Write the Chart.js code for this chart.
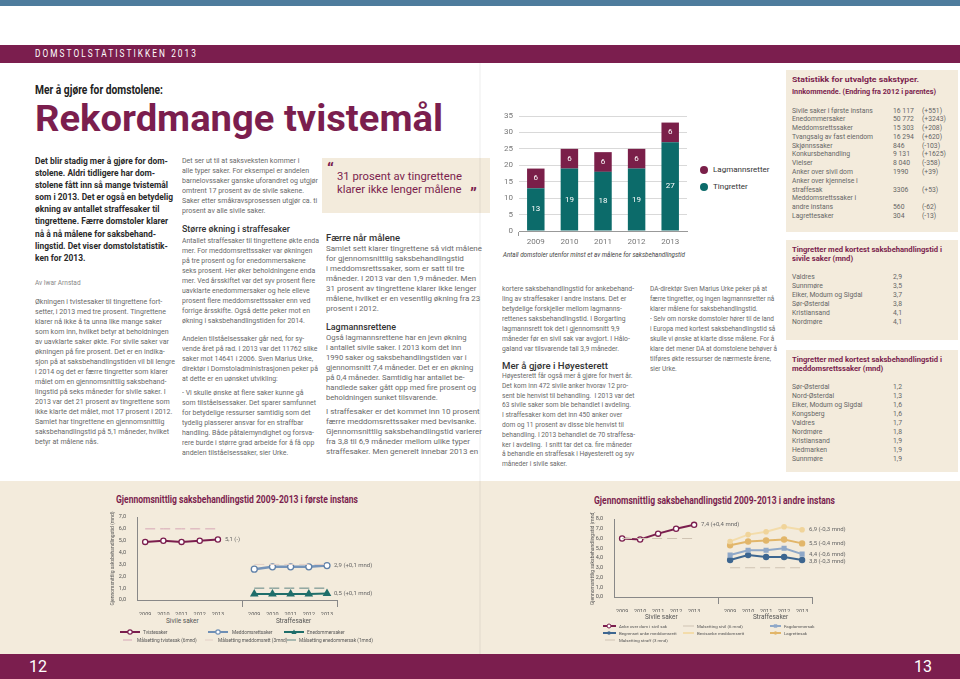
<!DOCTYPE html>
<html><head><meta charset="utf-8">
<script src="https://cdn.jsdelivr.net/npm/chart.js@4.4.1/dist/chart.umd.min.js"></script>
<style>
html,body{margin:0;padding:0;}
body{width:960px;height:679px;position:relative;overflow:hidden;background:#fff;font-family:Roboto,'Liberation Sans',sans-serif;}
.box{position:absolute;}
.t{position:absolute;white-space:pre;transform-origin:0 0;}
.body{font-size:6.6px;line-height:10px;color:#686868;}
.h{font-size:9px;line-height:12px;color:#333;font-weight:500;}
.side{font-size:6.8px;color:#666;}
.sideTitle{font-size:7px;line-height:10px;color:#7b1e4e;font-weight:700;}
.cv{position:absolute;}
</style></head><body>
<!-- page decoration -->
<div class="box" style="left:0;top:0;width:960px;height:6px;background:#4e7c9d"></div>
<div class="box" style="left:0;top:45px;width:960px;height:18px;background:#7b1e4e"></div>
<div class="t" style="left:35px;top:48px;font-size:10.5px;line-height:12px;color:#fff;letter-spacing:2.6px;" data-w="163">DOMSTOLSTATISTIKKEN 2013</div>
<div class="t" style="left:35px;top:83px;font-size:12.5px;line-height:14px;color:#222;font-weight:700;" data-w="128">Mer å gjøre for domstolene:</div>
<div class="t" style="left:35px;top:99px;font-size:37px;line-height:40px;color:#7b1e4e;font-weight:700;" data-w="408">Rekordmange tvistemål</div>

<div class="t" style="left:35px;top:155px;font-size:9.6px;line-height:12.1px;color:#2a2a2a;font-weight:700;" data-w="138">Det blir stadig mer å gjøre for dom-
stolene. Aldri tidligere har dom-
stolene fått inn så mange tvistemål
som i 2013. Det er også en betydelig
økning av antallet straffesaker til
tingrettene. Færre domstoler klarer
nå å nå målene for saksbehand-
lingstid. Det viser domstolstatistik-
ken for 2013.</div>
<div class="t" style="left:35px;top:279px;font-size:6.5px;line-height:9px;color:#888;">Av Iwar Arnstad</div>
<div class="t body" style="left:35px;top:297px;" data-w="140">Økningen i tvistesaker til tingrettene fort-
setter, i 2013 med tre prosent. Tingrettene
klarer nå ikke å ta unna like mange saker
som kom inn, hvilket betyr at beholdningen
av uavklarte saker økte. For sivile saker var
økningen på fire prosent. Det er en indika-
sjon på at saksbehandlingstiden vil bli lengre
i 2014 og det er færre tingretter som klarer
målet om en gjennomsnittlig saksbehand-
lingstid på seks måneder for sivile saker. I
2013 var det 21 prosent av tingrettene som
ikke klarte det målet, mot 17 prosent i 2012.
Samlet har tingrettene en gjennomsnittlig
saksbehandlingstid på 5,1 måneder, hvilket
betyr at målene nås.</div>

<div class="t body" style="left:182px;top:156px;" data-w="136">Det ser ut til at saksveksten kommer i
alle typer saker. For eksempel er andelen
barnelovssaker ganske uforandret og utgjør
omtrent 17 prosent av de sivile sakene.
Saker etter småkravsprosessen utgjør ca. ti
prosent av alle sivile saker.</div>
<div class="t h" style="left:182px;top:223px;" data-w="108">Større økning i straffesaker</div>
<div class="t body" style="left:182px;top:236px;" data-w="137">Antallet straffesaker til tingrettene økte enda
mer. For meddomsrettssaker var økningen
på tre prosent og for enedommersakene
seks prosent. Her øker beholdningene enda
mer. Ved årsskiftet var det syv prosent flere
uavklarte enedommersaker og hele elleve
prosent flere meddomsrettssaker enn ved
forrige årsskifte. Også dette peker mot en
økning i saksbehandlingstiden for 2014.</div>
<div class="t body" style="left:182px;top:334px;" data-w="136">Andelen tilståelsessaker går ned, for sy-
vende året på rad. I 2013 var det 11762 slike
saker mot 14641 i 2006. Sven Marius Urke,
direktør i Domstoladministrasjonen peker på
at dette er en uønsket utvikling:</div>
<div class="t body" style="left:182px;top:388px;" data-w="134">- Vi skulle ønske at flere saker kunne gå
som tilståelsessaker. Det sparer samfunnet
for betydelige ressurser samtidig som det
tydelig plasserer ansvar for en straffbar
handling. Både påtalemyndighet og forsva-
rere burde i større grad arbeide for å få opp
andelen tilståelsessaker, sier Urke.</div>

<div class="box" style="left:322px;top:158px;width:168px;height:55px;background:#f3ebdc"></div>
<div class="t" style="left:327px;top:160px;font-size:17px;line-height:18px;color:#7b1e4e;font-weight:700;">“</div>
<div class="t" style="left:337px;top:170px;font-size:11px;line-height:13px;color:#7b1e4e;" data-w="125">31 prosent av tingrettene
klarer ikke lenger målene</div>
<div class="t" style="left:470px;top:184px;font-size:17px;line-height:18px;color:#7b1e4e;font-weight:700;">”</div>
<div class="t h" style="left:326px;top:232px;" data-w="74">Færre når målene</div>
<div class="t body" style="left:326px;top:244px;" data-w="156">Samlet sett klarer tingrettene så vidt målene
for gjennomsnittlig saksbehandlingstid
i meddomsrettssaker, som er satt til tre
måneder. I 2013 var den 1,9 måneder. Men
31 prosent av tingrettene klarer ikke lenger
målene, hvilket er en vesentlig økning fra 23
prosent i 2012.</div>
<div class="t h" style="left:326px;top:321px;" data-w="70">Lagmannsrettene</div>
<div class="t body" style="left:326px;top:333px;" data-w="150">Også lagmannsrettene har en jevn økning
i antallet sivile saker. I 2013 kom det inn
1990 saker og saksbehandlingstiden var i
gjennomsnitt 7,4 måneder. Det er en økning
på 0,4 måneder. Samtidig har antallet be-
handlede saker gått opp med fire prosent og
beholdningen sunket tilsvarende.</div>
<div class="t body" style="left:326px;top:407px;" data-w="156">I straffesaker er det kommet inn 10 prosent
færre meddomsrettssaker med bevisanke.
Gjennomsnittlig saksbehandlingstid varierer
fra 3,8 til 6,9 måneder mellom ulike typer
straffesaker. Men generelt innebar 2013 en</div>

<div class="t body" style="left:502px;top:284px;" data-w="132">kortere saksbehandlingstid for ankebehand-
ling av straffesaker i andre instans. Det er
betydelige forskjeller mellom lagmanns-
rettenes saksbehandlingstid. I Borgarting
lagmannsrett tok det i gjennomsnitt 9,9
måneder før en sivil sak var avgjort. I Hålo-
galand var tilsvarende tall 3,9 måneder.</div>
<div class="t h" style="left:502px;top:360px;" data-w="106">Mer å gjøre i Høyesterett</div>
<div class="t body" style="left:502px;top:372px;line-height:9.8px;" data-w="133">Høyesterett får også mer å gjøre for hvert år.
Det kom inn 472 sivile anker hvorav 12 pro-
sent ble henvist til behandling.  I 2013 var det
63 sivile saker som ble behandlet i avdeling.
I straffesaker kom det inn 450 anker over
dom og 11 prosent av disse ble henvist til
behandling. I 2013 behandlet de 70 straffesa-
ker i avdeling.  I snitt tar det ca. fire måneder
å behandle en straffesak i Høyesterett og syv
måneder i sivile saker.</div>
<div class="t body" style="left:650px;top:284px;" data-w="127">DA-direktør Sven Marius Urke peker på at
færre tingretter, og ingen lagmannsretter nå
klarer målene for saksbehandlingstid.
- Selv om norske domstoler hører til de land
i Europa med kortest saksbehandlingstid så
skulle vi ønske at klarte disse målene. For å
klare det mener DA at domstolene behøver å
tilføres økte ressurser de nærmeste årene,
sier Urke.</div>

<!-- bar chart -->
<div class="cv" style="left:490px;top:104px;width:200px;height:140px;"><canvas id="bar"></canvas></div>
<div class="box" style="left:700px;top:166px;width:8px;height:8px;border-radius:50%;background:#7a1f49"></div>
<div class="t" style="left:713px;top:165px;font-size:8px;line-height:10px;color:#333;">Lagmannsretter</div>
<div class="box" style="left:700px;top:183px;width:8px;height:8px;border-radius:50%;background:#0c6b6a"></div>
<div class="t" style="left:713px;top:182px;font-size:8px;line-height:10px;color:#333;">Tingretter</div>
<div class="t" style="left:503px;top:251px;font-size:6.6px;line-height:9px;color:#444;font-style:italic;" data-w="182">Antall domstoler utenfor minst et av målene for saksbehandlingstid</div>

<!-- sidebar -->
<div class="box" style="left:786px;top:70px;width:172px;height:162px;background:#f3ebdc"></div>
<div class="t sideTitle" style="left:792px;top:74px;line-height:12px;" data-w="127">Statistikk for utvalgte sakstyper.</div>
<div class="t sideTitle" style="left:792px;top:86px;line-height:12px;" data-w="144">Innkommende. (Endring fra 2012 i parentes)</div>
<div class="t side" style="left:792px;top:106.5px;line-height:8.8px;">Sivile saker i første instans
Enedommersaker
Meddomsrettssaker
Tvangsalg av fast eiendom
Skjønnssaker
Konkursbehandling
Vielser
Anker over sivil dom
Anker over kjennelse i
straffesak
Meddomsrettssaker i
andre instans
Lagrettesaker</div>
<div class="t side" style="left:893px;top:106.5px;line-height:8.8px;">16 117
50 772
15 303
16 294
846
9 131
8 040
1990

3306

560
304</div>
<div class="t side" style="left:922px;top:106.5px;line-height:8.8px;">(+551)
(+3243)
(+208)
(+620)
(-103)
(+1625)
(-358)
(+39)

(+53)

(-62)
(-13)</div>

<div class="box" style="left:786px;top:240px;width:172px;height:100px;background:#f3ebdc"></div>
<div class="t sideTitle" style="left:792px;top:246px;line-height:9px;" data-w="150">Tingretter med kortest saksbehandlingstid i
sivile saker (mnd)</div>
<div class="t side" style="left:792px;top:272.5px;line-height:9px;">Valdres
Sunnmøre
Eiker, Modum og Sigdal
Sør-Østerdal
Kristiansand
Nordmøre</div>
<div class="t side" style="left:893px;top:272.5px;line-height:9px;">2,9
3,5
3,7
3,8
4,1
4,1</div>

<div class="box" style="left:786px;top:350px;width:172px;height:122px;background:#f3ebdc"></div>
<div class="t sideTitle" style="left:792px;top:356px;line-height:8.5px;" data-w="150">Tingretter med kortest saksbehandlingstid i
meddomsrettssaker (mnd)</div>
<div class="t side" style="left:792px;top:382.5px;line-height:9px;">Sør-Østerdal
Nord-Østerdal
Eiker, Modum og Sigdal
Kongsberg
Valdres
Nordmøre
Kristiansand
Hedmarken
Sunnmøre</div>
<div class="t side" style="left:893px;top:382.5px;line-height:9px;">1,2
1,3
1,6
1,6
1,7
1,8
1,9
1,9
1,9</div>

<!-- bottom -->
<div class="box" style="left:0;top:481px;width:960px;height:174px;background:#f3ebdc"></div>
<div class="box" style="left:479px;top:63px;width:2px;height:592px;background:rgba(0,0,0,0.035)"></div>
<div class="box" style="left:0;top:654px;width:960px;height:25px;background:#7b1e4e"></div>
<div class="t" style="left:29px;top:658px;font-size:16px;line-height:18px;color:#fff;">12</div>
<div class="t" style="left:914px;top:658px;font-size:16px;line-height:18px;color:#fff;">13</div>

<div class="t" style="left:116px;top:494px;font-size:10px;line-height:12px;color:#7b1e4e;font-weight:700;" data-w="242">Gjennomsnittlig saksbehandlingstid 2009-2013 i første instans</div>
<div class="t" style="left:594px;top:495px;font-size:10px;line-height:12px;color:#7b1e4e;font-weight:700;" data-w="241">Gjennomsnittlig saksbehandlingstid 2009-2013 i andre instans</div>

<div class="cv" style="left:110px;top:510px;width:290px;height:105px;"><canvas id="line1"></canvas></div>
<div class="cv" style="left:590px;top:512px;width:290px;height:100px;"><canvas id="line2"></canvas></div>
<div class="t" style="left:166px;top:617px;font-size:6.5px;line-height:8px;color:#555;">Sivile saker</div>
<div class="t" style="left:276px;top:617px;font-size:6.5px;line-height:8px;color:#555;">Straffesaker</div>
<div class="t" style="left:645px;top:613px;font-size:6.5px;line-height:8px;color:#555;">Sivile saker</div>
<div class="t" style="left:753px;top:613px;font-size:6.5px;line-height:8px;color:#555;">Straffesaker</div>

<svg class="box" style="left:0;top:620px" width="960" height="30" font-family="Roboto, sans-serif" font-size="4.8" fill="#555">
  <line x1="120" y1="12" x2="140" y2="12" stroke="#7b1e4e" stroke-width="2"/><circle cx="130" cy="12" r="2.2" fill="#fff" stroke="#7b1e4e" stroke-width="1.2"/>
  <text x="143" y="13.8">Tvistesaker</text>
  <line x1="208" y1="12" x2="228" y2="12" stroke="#6f8fb5" stroke-width="2"/><circle cx="218" cy="12" r="2.2" fill="#fff" stroke="#6f8fb5" stroke-width="1.2"/>
  <text x="232" y="13.8">Meddomsrettsaker</text>
  <line x1="284" y1="12" x2="304" y2="12" stroke="#1f6e6a" stroke-width="2"/><path d="M294,9.5 L296.6,14 L291.4,14 Z" fill="#1f6e6a"/>
  <text x="307" y="13.8">Enedommersaker</text>
  <line x1="123" y1="20" x2="132" y2="20" stroke="#d6a5b5" stroke-width="1"/>
  <text x="137" y="21.8">Målsetting tvistesak (6mnd)</text>
  <line x1="205" y1="20" x2="213" y2="20" stroke="#e3cfc6" stroke-width="1"/>
  <text x="218" y="21.8">Målsetting meddomsrett (3mnd)</text>
  <line x1="287" y1="20" x2="296" y2="20" stroke="#5f8583" stroke-width="1"/>
  <text x="299" y="21.8">Målsetting enedommersak (1mnd)</text>
  <g font-size="4.4">
  <line x1="603" y1="6" x2="616" y2="6" stroke="#7b1e4e" stroke-width="2"/><circle cx="609" cy="6" r="2" fill="#fff" stroke="#7b1e4e" stroke-width="1"/>
  <text x="619" y="7.6">Anke over dom i sivil sak</text>
  <line x1="603" y1="13" x2="616" y2="13" stroke="#3d6690" stroke-width="2"/><circle cx="609" cy="13" r="1.8" fill="#3d6690"/>
  <text x="619" y="14.6">Begrenset anke meddomsrett</text>
  <line x1="605" y1="20" x2="615" y2="20" stroke="#cfc3b3" stroke-width="1"/>
  <text x="619" y="21.6">Målsetting straff (3 mnd)</text>
  <line x1="683" y1="6" x2="694" y2="6" stroke="#cfc3b3" stroke-width="1"/>
  <text x="697" y="7.6">Målsetting sivil (6 mnd)</text>
  <line x1="683" y1="13" x2="694" y2="13" stroke="#f3dcaa" stroke-width="2"/>
  <text x="697" y="14.6">Bevisanke meddomsrett</text>
  <line x1="770" y1="6" x2="781" y2="6" stroke="#8fa8c8" stroke-width="2"/><rect x="773.8" y="4.3" width="3.4" height="3.4" fill="#8fa8c8"/>
  <text x="784" y="7.6">Fagdommersak</text>
  <line x1="770" y1="13" x2="781" y2="13" stroke="#e2b66a" stroke-width="2"/><circle cx="775.5" cy="13" r="1.7" fill="#e2b66a"/>
  <text x="784" y="14.6">Lagrettesak</text>
  </g>
</svg>

<script>
// ---------- data ----------
const years = ['2009', '2010', '2011', '2012', '2013'];
const tingretter = [13, 19, 18, 19, 27];
const lagmannsretter = [6, 6, 6, 6, 6];
const barTicks = [0, 5, 10, 15, 20, 25, 30, 35];

// Første instans (mnd)
const tvistesaker = [4.9, 5.0, 4.9, 5.0, 5.1];
const meddomsrettsaker = [2.6, 2.8, 2.8, 2.8, 2.9];
const enedommersaker = [0.5, 0.5, 0.5, 0.5, 0.55];
const maalTvistesak = [6, 6, 6, 6, 6];
const maalMeddomsrett = [3, 3, 3, 3, 3];
const maalEnedommersak = [1, 1, 1, 1, 1];
const ticks1 = [0, 1, 2, 3, 4, 5, 6, 7];
const endLabels1 = ['5,1 (-)', '2,9 (+0,1 mnd)', '0,5 (+0,1 mnd)'];

// Andre instans (mnd)
const ankeSivilSak = [6.0, 5.9, 6.5, 7.0, 7.4];
const maalSivil = [6, 6, 6, 6, 6];
const begrensetAnke = [3.8, 4.3, 4.1, 4.1, 3.8];
const fagdommersak = [4.3, 4.8, 4.8, 5.0, 4.4];
const lagrettesak = [5.3, 5.7, 5.8, 5.9, 5.5];
const bevisanke = [5.7, 6.4, 6.7, 7.2, 6.9];
const maalStraff = [3, 3, 3, 3, 3];
const ticks2 = [0, 1, 2, 3, 4, 5, 6, 7, 8];
const endLabels2 = ['7,4 (+0,4 mnd)', '6,9 (-0,3 mnd)', '5,5 (-0,4 mnd)', '4,4 (-0,6 mnd)', '3,8 (-0,3 mnd)'];

// two panels on one axis: sivile (slots 0-4) and straffe (slots 6-10)
const sivileSlots = [0, 1, 2, 3, 4];
const straffeSlots = [6, 7, 8, 9, 10];
const allSlots = sivileSlots.concat(straffeSlots);
const allSlotLabels = years.concat(years);

// ---------- helpers ----------
Chart.defaults.font.family = 'Roboto, "Liberation Sans", sans-serif';
Chart.defaults.animation = false;
const fmt = v => Number(v).toFixed(1).replace('.', ',');
const onSlots = (slots, arr) => arr.map((v, i) => ({x: slots[i], y: v}));

const valueLabels = {
  id: 'valueLabels',
  afterDatasetsDraw(chart) {
    const ctx = chart.ctx;
    ctx.save();
    ctx.fillStyle = '#fff';
    ctx.font = '8px Roboto, sans-serif';
    ctx.textAlign = 'center';
    ctx.textBaseline = 'middle';
    chart.data.datasets.forEach((ds, i) => {
      chart.getDatasetMeta(i).data.forEach((bar, j) => {
        const p = bar.getProps(['x', 'y', 'base'], true);
        ctx.fillText(String(ds.data[j]), p.x, (p.y + p.base) / 2);
      });
    });
    ctx.restore();
  }
};

const endLabels = {
  id: 'endLabels',
  afterDatasetsDraw(chart, args, opts) {
    const ctx = chart.ctx;
    ctx.save();
    ctx.font = '6px Roboto, sans-serif';
    ctx.fillStyle = '#666';
    ctx.textBaseline = 'middle';
    chart.data.datasets.forEach((ds, i) => {
      if (!ds.endLabel) return;
      const pts = chart.getDatasetMeta(i).data;
      const p = pts[pts.length - 1];
      ctx.fillText(ds.endLabel, p.x + (opts.dx || 7), p.y + (ds.endDy || 0));
    });
    ctx.restore();
  }
};

const panelTicks = {
  id: 'panelTicks',
  afterDraw(chart, args, opts) {
    const ctx = chart.ctx, xs = chart.scales.x, a = chart.chartArea;
    ctx.save();
    ctx.strokeStyle = '#888';
    ctx.lineWidth = 1;
    [xs.getPixelForValue(opts.divider), a.right].forEach(x => {
      x = Math.round(x) + 0.5;
      ctx.beginPath(); ctx.moveTo(x, a.bottom); ctx.lineTo(x, a.bottom + 7); ctx.stroke();
    });
    ctx.restore();
  }
};

function lineOptions(yMax, yTicks, yWidth, padRight) {
  return {
    responsive: true, maintainAspectRatio: false, animation: false,
    layout: {padding: {top: 7, right: padRight, left: 0, bottom: 0}},
    plugins: {legend: {display: false}, tooltip: {enabled: false}, panelTicks: {divider: 5.35}, endLabels: {dx: 7}},
    scales: {
      x: {
        type: 'linear', min: -0.45, max: 10.55,
        afterBuildTicks: s => { s.ticks = allSlots.map(v => ({value: v})); },
        ticks: {callback: v => allSlotLabels[allSlots.indexOf(v)], font: {size: 5.5}, color: '#555', padding: 3, maxRotation: 0, autoSkip: false},
        grid: {display: false},
        border: {display: true, color: '#888'},
        afterFit: s => { s.height = 15; }
      },
      y: {
        min: 0, max: yMax,
        afterBuildTicks: s => { s.ticks = yTicks.map(v => ({value: v})); },
        ticks: {callback: v => fmt(v), font: {size: 5.5}, color: '#555', padding: 3},
        grid: {display: false},
        border: {display: true, color: '#888'},
        title: {display: true, text: 'Gjennomsnittlig saksbehandlingstid (mnd)', font: {size: 5}, color: '#555', padding: 0},
        afterFit: s => { s.width = yWidth; }
      }
    }
  };
}

// ---------- bar chart ----------
new Chart(document.getElementById('bar'), {
  type: 'bar',
  data: {
    labels: years,
    datasets: [
      {label: 'Tingretter', data: tingretter, backgroundColor: '#0c6b6a', barPercentage: 0.52, categoryPercentage: 1},
      {label: 'Lagmannsretter', data: lagmannsretter, backgroundColor: '#7a1f49', barPercentage: 0.52, categoryPercentage: 1}
    ]
  },
  options: {
    responsive: true, maintainAspectRatio: false, animation: false,
    layout: {padding: {top: 12, right: 3, left: 0, bottom: 0}},
    plugins: {legend: {display: false}, tooltip: {enabled: false}},
    scales: {
      x: {
        stacked: true,
        grid: {display: true, drawOnChartArea: false, offset: true, tickLength: 5,
               color: c => (c.index === 0 || c.index === years.length) ? '#999' : 'rgba(0,0,0,0)'},
        border: {display: true, color: '#999'},
        ticks: {font: {size: 8}, color: '#777', padding: 1},
        afterFit: s => { s.height = 13; }
      },
      y: {
        stacked: true, min: 0, max: 35,
        afterBuildTicks: s => { s.ticks = barTicks.map(v => ({value: v})); },
        grid: {color: '#d9d9d9', drawTicks: false},
        border: {display: false},
        ticks: {font: {size: 8}, color: '#777', padding: 6},
        afterFit: s => { s.width = 29; }
      }
    }
  },
  plugins: [valueLabels]
});

// ---------- line chart: første instans ----------
new Chart(document.getElementById('line1'), {
  type: 'line',
  data: {
    datasets: [
      {label: 'Målsetting tvistesak (6mnd)', data: onSlots(sivileSlots, maalTvistesak), borderColor: '#d6a5b5', borderWidth: 1, borderDash: [10, 5], pointRadius: 0},
      {label: 'Målsetting meddomsrett (3mnd)', data: onSlots(straffeSlots, maalMeddomsrett), borderColor: '#e3cfc6', borderWidth: 1, borderDash: [10, 5], pointRadius: 0},
      {label: 'Målsetting enedommersak (1mnd)', data: onSlots(straffeSlots, maalEnedommersak), borderColor: '#5f8583', borderWidth: 1, borderDash: [10, 5], pointRadius: 0},
      {label: 'Tvistesaker', data: onSlots(sivileSlots, tvistesaker), borderColor: '#7b1e4e', borderWidth: 2, pointStyle: 'circle', pointRadius: 2.6, pointBorderWidth: 1.3, pointBackgroundColor: '#fff', pointBorderColor: '#7b1e4e', endLabel: endLabels1[0]},
      {label: 'Meddomsrettsaker', data: onSlots(straffeSlots, meddomsrettsaker), borderColor: '#7594ba', borderWidth: 2.5, pointStyle: 'circle', pointRadius: 3, pointBorderWidth: 1.3, pointBackgroundColor: '#fff', pointBorderColor: '#5f80a8', endLabel: endLabels1[1]},
      {label: 'Enedommersaker', data: onSlots(straffeSlots, enedommersaker), borderColor: '#1f6e6a', borderWidth: 2, pointStyle: 'triangle', pointRadius: 3, pointBackgroundColor: '#1f6e6a', pointBorderColor: '#1f6e6a', endLabel: endLabels1[2]}
    ]
  },
  options: lineOptions(7, ticks1, 27, 63),
  plugins: [endLabels, panelTicks]
});

// ---------- line chart: andre instans ----------
new Chart(document.getElementById('line2'), {
  type: 'line',
  data: {
    datasets: [
      {label: 'Målsetting sivil (6 mnd)', data: onSlots(sivileSlots, maalSivil), borderColor: '#cfc3b3', borderWidth: 1, borderDash: [10, 5], pointRadius: 0},
      {label: 'Målsetting straff (3 mnd)', data: onSlots(straffeSlots, maalStraff), borderColor: '#cfc3b3', borderWidth: 1, borderDash: [10, 5], pointRadius: 0},
      {label: 'Bevisanke meddomsrett', data: onSlots(straffeSlots, bevisanke), borderColor: '#f3dcaa', borderWidth: 2, pointRadius: 1.8, pointBackgroundColor: '#f0d49a', pointBorderColor: '#f0d49a', endLabel: endLabels2[1]},
      {label: 'Lagrettesak', data: onSlots(straffeSlots, lagrettesak), borderColor: '#e2b66a', borderWidth: 2, pointRadius: 2.2, pointBackgroundColor: '#e2b66a', pointBorderColor: '#e2b66a', endLabel: endLabels2[2]},
      {label: 'Fagdommersak', data: onSlots(straffeSlots, fagdommersak), borderColor: '#8fa8c8', borderWidth: 2, pointStyle: 'rect', pointRadius: 2.2, pointBackgroundColor: '#8fa8c8', pointBorderColor: '#8fa8c8', endLabel: endLabels2[3]},
      {label: 'Begrenset anke meddomsrett', data: onSlots(straffeSlots, begrensetAnke), borderColor: '#3d6690', borderWidth: 2, pointRadius: 2.2, pointBackgroundColor: '#3d6690', pointBorderColor: '#3d6690', endLabel: endLabels2[4], endDy: 2},
      {label: 'Anke over dom i sivil sak', data: onSlots(sivileSlots, ankeSivilSak), borderColor: '#7b1e4e', borderWidth: 2, pointStyle: 'circle', pointRadius: 2.6, pointBorderWidth: 1.3, pointBackgroundColor: '#fff', pointBorderColor: '#7b1e4e', endLabel: endLabels2[0]}
    ]
  },
  options: lineOptions(8, ticks2, 24, 68),
  plugins: [endLabels, panelTicks]
});

// ---------- fit text widths ----------
function fitAll() {
  document.querySelectorAll('[data-w]').forEach(el => {
    el.style.transform = 'none';
    const w = el.getBoundingClientRect().width;
    const t = +el.dataset.w;
    if (w > 0) el.style.transform = 'scaleX(' + (t / w) + ')';
  });
}
fitAll();
if (document.fonts && document.fonts.ready) document.fonts.ready.then(fitAll);
</script>
</body></html>
